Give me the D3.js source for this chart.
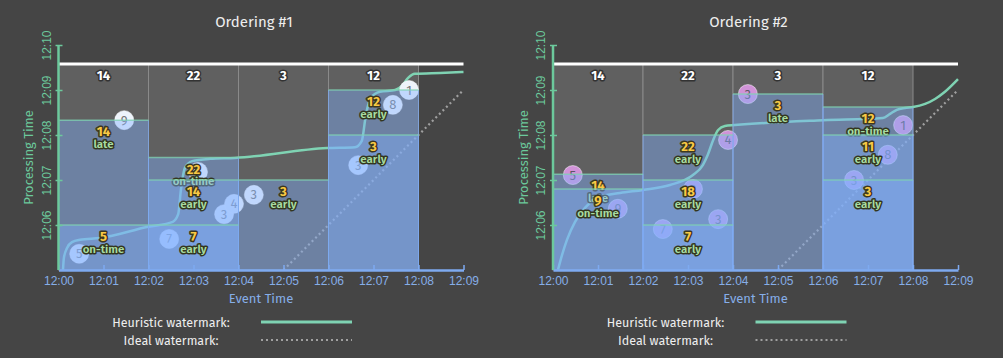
<!DOCTYPE html>
<html><head><meta charset="utf-8">
<script src="https://cdn.jsdelivr.net/npm/d3@7"></script>
<style>
html,body{margin:0;padding:0;background:#454545;}
svg{display:block;font-family:"Fira Sans","Noto Sans","Open Sans",sans-serif;}
</style></head><body>
<svg id="chart" width="1003" height="358"></svg>
<script>
// ---------- data (minutes after 12:00) ----------
const xTickLabels = ["12:00","12:01","12:02","12:03","12:04","12:05","12:06","12:07","12:08","12:09"];
const yTickLabels = ["12:06","12:07","12:08","12:09","12:10"];
const yTickValues = [6,7,8,9,10];
const windows = [[0,2],[2,4],[4,6],[6,8]];
const windowTotals = [14,22,3,12];
const finalTime = 9.58;
const idealWatermark = [[5,5],[9,9]];
const titles = ["Ordering #1","Ordering #2"];

// Ordering #1
const o1Circles = [
  [0.46,5.36,"5"],[1.46,8.33,"9"],[2.46,5.69,"7"],[3.10,7.18,"8"],[3.68,6.24,"3"],
  [3.90,6.47,"4"],[4.34,6.67,"3"],[6.66,7.33,"3"],[7.43,8.67,"8"],[7.79,9.00,"1"]
];
const o1Firings = [ // window index, processing time, value, timing
  [0,6.00,5,"on-time"],[0,8.33,14,"late"],
  [1,6.00,7,"early"],[1,7.00,14,"early"],[1,7.50,22,"on-time"],
  [2,7.00,3,"early"],
  [3,8.00,3,"early"],[3,9.00,12,"early"]
];
const o1Heuristic = [
  [0.10,5.00],[0.12,5.27],[0.19,5.49],[0.30,5.62],[0.48,5.67],[0.92,5.71],[1.99,5.96],
  [2.54,6.07],[2.66,6.24],[2.72,6.78],[2.81,7.27],[2.97,7.42],[3.37,7.47],[3.92,7.49],
  [5.97,7.71],[6.59,7.73],[6.74,7.87],[6.83,8.44],[6.94,8.82],[7.14,8.96],[7.48,9.00],
  [7.63,9.09],[7.77,9.27],[7.92,9.36],[8.48,9.38],[9.00,9.40]
];

// Ordering #2
const o2Circles = [
  [0.44,7.11,"5"],[1.44,6.36,"9"],[2.44,5.91,"7"],[3.11,6.80,"8"],[3.67,6.13,"3"],
  [3.89,7.89,"4"],[4.33,8.91,"3"],[6.69,7.00,"3"],[7.44,7.56,"8"],[7.78,8.22,"1"]
];
const o2Firings = [
  [0,6.80,9,"on-time"],[0,7.13,14,"late"],
  [1,6.00,7,"early"],[1,7.00,18,"early"],[1,8.00,22,"early"],
  [2,8.91,3,"late"],
  [3,7.00,3,"early"],[3,8.00,11,"early"],[3,8.62,12,"on-time"]
];
const o2Heuristic = [
  [0.11,5.00],[0.20,5.33],[0.31,5.67],[0.49,6.07],[0.71,6.38],[1.04,6.62],[1.49,6.71],
  [2.00,6.78],[2.60,6.89],[3.11,7.11],[3.33,7.33],[3.44,7.56],[3.56,7.89],[3.67,8.11],
  [3.82,8.20],[4.04,8.22],[6.00,8.33],[7.33,8.38],[7.49,8.47],[7.64,8.56],[7.82,8.60],
  [8.00,8.62],[8.27,8.69],[8.49,8.80],[8.71,8.96],[9.00,9.24]
];

const legendLabels = ["Heuristic watermark:","Ideal watermark:"];

// ---------- drawing ----------
const svg = d3.select("#chart");
const GREEN = "#7fd3b3", BLUE = "#7eaaf0", AXG = "#6cc99c";

function drawChart(offsetX, title, circles, firings, heuristic, circleFill, circleText) {
  const g = svg.append("g").attr("transform", `translate(${offsetX},0)`);
  const x = d3.scaleLinear().domain([0,9]).range([0,405]);
  const y = d3.scaleLinear().domain([5,10]).range([270,45]);

  // title
  g.append("text").attr("x", 195.5).attr("y", 22).attr("text-anchor","middle")
    .attr("dominant-baseline","central").attr("fill","#eeeeee").attr("font-size",15).text(title);

  // gray windows
  g.selectAll("rect.win").data(windows).join("rect").attr("class","win")
    .attr("x", d => x(d[0])).attr("width", d => x(d[1]) - x(d[0]))
    .attr("y", y(finalTime)).attr("height", y(5) - y(finalTime))
    .attr("fill","#606060").attr("stroke","#8a8a8a").attr("stroke-width",1);

  // final line
  g.append("line").attr("x1", x(0)).attr("x2", x(9)).attr("y1", y(finalTime)).attr("y2", y(finalTime))
    .attr("stroke","#ffffff").attr("stroke-width",3);

  // ideal watermark
  const line = d3.line().x(d => x(d[0])).y(d => y(d[1]));
  g.append("path").attr("d", line(idealWatermark)).attr("fill","none")
    .attr("stroke","#a0a0a0").attr("stroke-width",2.2).attr("stroke-dasharray","2,3");

  // heuristic watermark
  g.append("path").attr("d", line.curve(d3.curveMonotoneX)(heuristic)).attr("fill","none")
    .attr("stroke",GREEN).attr("stroke-width",2.5);

  // circles
  const cg = g.selectAll("g.pt").data(circles).join("g").attr("class","pt")
    .attr("transform", d => `translate(${x(d[0])},${y(d[1])})`);
  cg.append("circle").attr("r",9.5).attr("fill",circleFill).attr("stroke","rgba(255,255,255,0.5)").attr("stroke-width",1);
  cg.append("text").attr("text-anchor","middle").attr("dominant-baseline","central")
    .attr("font-size",13).attr("fill",circleText).text(d => d[2]);

  // panes (tallest first so later, shorter panes overlay their labels)
  const sorted = firings.slice().sort((a,b) => b[1]-a[1]);
  sorted.forEach(f => {
    const w = windows[f[0]];
    const x0 = x(w[0]), x1 = x(w[1]), yt = y(f[1]), yb = y(5);
    g.append("rect").attr("x", x0).attr("width", x1-x0).attr("y", yt).attr("height", yb-yt)
      .attr("fill","#80b0ff").attr("fill-opacity",0.42);
    g.append("line").attr("x1",x0).attr("x2",x0).attr("y1",yt).attr("y2",yb)
      .attr("stroke",BLUE).attr("stroke-opacity",0.7).attr("stroke-width",1);
    g.append("line").attr("x1",x1).attr("x2",x1).attr("y1",yt).attr("y2",yb)
      .attr("stroke",BLUE).attr("stroke-opacity",0.7).attr("stroke-width",1);
    g.append("line").attr("x1",x0).attr("x2",x1).attr("y1",yt).attr("y2",yt)
      .attr("stroke",GREEN).attr("stroke-opacity",0.75).attr("stroke-width",1.5);
    const cx = (x0+x1)/2;
    g.append("text").attr("x",cx).attr("y",yt+11.5).attr("text-anchor","middle")
      .attr("dominant-baseline","central").attr("font-size",13).attr("font-weight","bold")
      .attr("fill","#f8c944").attr("stroke","#3c3720").attr("stroke-width",3)
      .attr("paint-order","stroke").attr("stroke-linejoin","round").text(f[2]);
    g.append("text").attr("x",cx).attr("y",yt+23.5).attr("text-anchor","middle")
      .attr("dominant-baseline","central").attr("font-size",11.5).attr("font-weight","600")
      .attr("fill","#a8dca2").attr("stroke","#33361f").attr("stroke-width",3)
      .attr("paint-order","stroke").attr("stroke-linejoin","round").text(f[3]);
  });

  // totals
  g.selectAll("text.tot").data(windows).join("text").attr("class","tot")
    .attr("x", (d) => (x(d[0])+x(d[1]))/2).attr("y", y(finalTime)+12)
    .attr("text-anchor","middle").attr("dominant-baseline","central")
    .attr("font-size",13).attr("font-weight","bold").attr("fill","#ffffff")
    .attr("stroke","#333333").attr("stroke-width",3).attr("paint-order","stroke")
    .attr("stroke-linejoin","round").text((d,i) => windowTotals[i]);

  // x axis
  const xa = g.append("g").attr("transform", `translate(0,${y(5)})`)
    .call(d3.axisBottom(x).tickValues(d3.range(0,10)).tickFormat((d,i) => xTickLabels[i]).tickSize(-5).tickSizeOuter(0));
  xa.select(".domain").attr("stroke",BLUE).attr("stroke-width",2.5);
  xa.selectAll(".tick line").attr("stroke",BLUE).attr("stroke-width",1.5);
  xa.selectAll(".tick text").attr("fill","#86aee8").attr("font-size",12).attr("font-family",null).attr("y",11).attr("dy","0.35em");

  // y axis
  const ya = g.append("g")
    .call(d3.axisLeft(y).tickValues(yTickValues).tickFormat((d,i) => yTickLabels[i]).tickSize(4).tickSizeOuter(0));
  ya.select(".domain").attr("stroke",AXG).attr("stroke-width",2.5).attr("d", `M0,${y(10)}V${y(5)}`);
  ya.selectAll(".tick line").attr("stroke",AXG).attr("stroke-width",1.5).attr("x1",4).attr("x2",-3);
  ya.selectAll(".tick text").attr("fill",AXG).attr("font-size",12).attr("font-family",null)
    .attr("x",null).attr("dy",null).attr("text-anchor","middle").attr("dominant-baseline","central")
    .attr("transform","translate(-12,0) rotate(-90)");

  // axis titles
  g.append("text").attr("transform",`translate(-30,${(y(5)+y(10))/2}) rotate(-90)`)
    .attr("text-anchor","middle").attr("dominant-baseline","central")
    .attr("fill",AXG).attr("font-size",13).text("Processing Time");
  g.append("text").attr("x", x(4.5)).attr("y", 298).attr("text-anchor","middle")
    .attr("dominant-baseline","central").attr("fill","#86aee8").attr("font-size",13).text("Event Time");

  // legend
  legendLabels.forEach((lbl,i) => {
    const ly = 322 + i*18;
    g.append("text").attr("x",112.5).attr("y",ly).attr("text-anchor","middle")
      .attr("dominant-baseline","central").attr("fill","#eeeeee").attr("font-size",12.5).text(lbl);
    const l = g.append("line").attr("x1",202.5).attr("x2",293.5).attr("y1",ly).attr("y2",ly);
    if (i===0) l.attr("stroke",GREEN).attr("stroke-width",3);
    else l.attr("stroke","#a0a0a0").attr("stroke-width",2).attr("stroke-dasharray","2,3");
  });
}

drawChart(58.5, titles[0], o1Circles, o1Firings, o1Heuristic, "#eef3fb", "#777777");
drawChart(553, titles[1], o2Circles, o2Firings, o2Heuristic, "#d193d8", "#5d5566");
</script>
</body></html>
